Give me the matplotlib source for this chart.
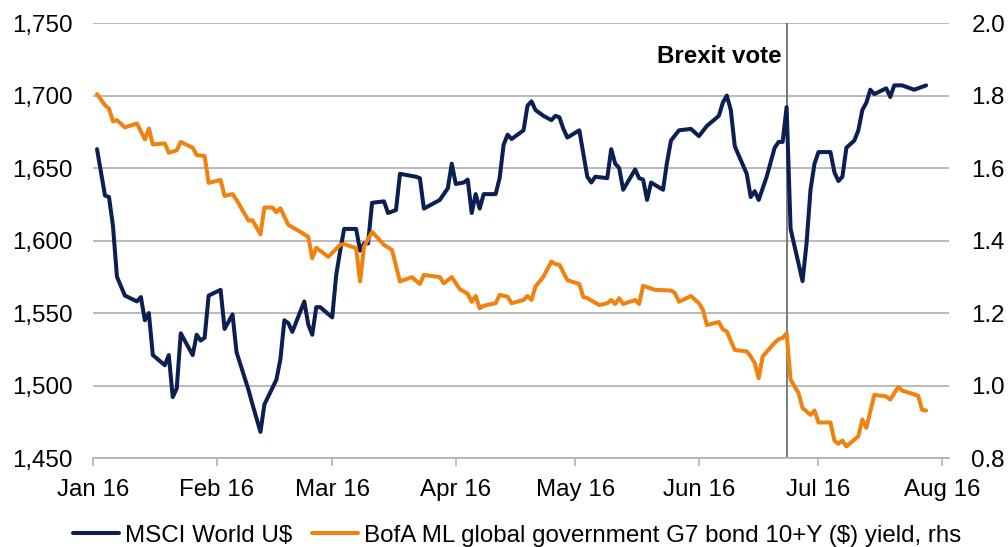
import pandas as pd
import matplotlib
matplotlib.use("Agg")
import matplotlib.pyplot as plt
import matplotlib.dates as mdates
from matplotlib.ticker import FuncFormatter, MultipleLocator

plt.rcParams["font.family"] = ["Liberation Sans", "DejaVu Sans"]

# MSCI World in US$ (left axis)
msci_dates = [
    "2016-01-02", "2016-01-04", "2016-01-05", "2016-01-06", "2016-01-07", "2016-01-09",
    "2016-01-12", "2016-01-13", "2016-01-14", "2016-01-15", "2016-01-16", "2016-01-19",
    "2016-01-20", "2016-01-21", "2016-01-22", "2016-01-23", "2016-01-26", "2016-01-27",
    "2016-01-28", "2016-01-29", "2016-01-30", "2016-02-02", "2016-02-03", "2016-02-05",
    "2016-02-06", "2016-02-09", "2016-02-10", "2016-02-12", "2016-02-13", "2016-02-16",
    "2016-02-17", "2016-02-18", "2016-02-19", "2016-02-20", "2016-02-23", "2016-02-24",
    "2016-02-25", "2016-02-26", "2016-02-27", "2016-03-01", "2016-03-02", "2016-03-03",
    "2016-03-04", "2016-03-07", "2016-03-08", "2016-03-09", "2016-03-10", "2016-03-11",
    "2016-03-14", "2016-03-15", "2016-03-17", "2016-03-18", "2016-03-22", "2016-03-23",
    "2016-03-24", "2016-03-28", "2016-03-29", "2016-03-30", "2016-03-31", "2016-04-01",
    "2016-04-03", "2016-04-04", "2016-04-05", "2016-04-06", "2016-04-07", "2016-04-08",
    "2016-04-11", "2016-04-12", "2016-04-13", "2016-04-14", "2016-04-15", "2016-04-18",
    "2016-04-19", "2016-04-20", "2016-04-21", "2016-04-23", "2016-04-25", "2016-04-26",
    "2016-04-27", "2016-04-28", "2016-04-29", "2016-05-02", "2016-05-04", "2016-05-05",
    "2016-05-06", "2016-05-09", "2016-05-10", "2016-05-11", "2016-05-12", "2016-05-13",
    "2016-05-16", "2016-05-17", "2016-05-18", "2016-05-19", "2016-05-20", "2016-05-23",
    "2016-05-24", "2016-05-25", "2016-05-27", "2016-05-30", "2016-06-01", "2016-06-03",
    "2016-06-06", "2016-06-07", "2016-06-08", "2016-06-09", "2016-06-10", "2016-06-13",
    "2016-06-14", "2016-06-15", "2016-06-16", "2016-06-18", "2016-06-20", "2016-06-21",
    "2016-06-22", "2016-06-23", "2016-06-24", "2016-06-27", "2016-06-28", "2016-06-29",
    "2016-06-30", "2016-07-01", "2016-07-04", "2016-07-05", "2016-07-06", "2016-07-07",
    "2016-07-08", "2016-07-10", "2016-07-11", "2016-07-12", "2016-07-13", "2016-07-14",
    "2016-07-15", "2016-07-18", "2016-07-19", "2016-07-20", "2016-07-22", "2016-07-25",
    "2016-07-27", "2016-07-28",
]
msci_values = [
    1663, 1631, 1630, 1610, 1575, 1562,
    1558, 1561, 1545, 1550, 1521, 1514,
    1521, 1492, 1498, 1536, 1521, 1535,
    1531, 1533, 1562, 1566, 1539, 1549,
    1523, 1497, 1487, 1468, 1487, 1504,
    1518, 1545, 1543, 1537, 1558, 1542,
    1535, 1554, 1554, 1547, 1576, 1593,
    1608, 1608, 1593, 1598, 1598, 1626,
    1627, 1619, 1621, 1646, 1644, 1643,
    1622, 1628, 1632, 1636, 1653, 1639,
    1640, 1642, 1619, 1632, 1622, 1632,
    1632, 1643, 1666, 1673, 1670, 1676,
    1693, 1696, 1690, 1686, 1683, 1686,
    1685, 1677, 1671, 1676, 1644, 1640,
    1644, 1643, 1663, 1653, 1650, 1635,
    1649, 1643, 1642, 1628, 1640, 1635,
    1654, 1669, 1676, 1677, 1672, 1679,
    1686, 1695, 1700, 1690, 1665, 1646,
    1630, 1634, 1628, 1644, 1664, 1668,
    1668, 1692, 1608, 1572, 1598, 1635,
    1653, 1661, 1661, 1647, 1641, 1644,
    1664, 1669, 1676, 1690, 1695, 1704,
    1701, 1705, 1699, 1707, 1707, 1704,
    1706, 1707,
]

# BofA ML G7 government bond 10+Y yield, % (right axis)
yield_dates = [
    "2016-01-02", "2016-01-04", "2016-01-05", "2016-01-06", "2016-01-07", "2016-01-09",
    "2016-01-12", "2016-01-14", "2016-01-15", "2016-01-16", "2016-01-19", "2016-01-20",
    "2016-01-22", "2016-01-23", "2016-01-26", "2016-01-27", "2016-01-29", "2016-01-30",
    "2016-02-02", "2016-02-03", "2016-02-05", "2016-02-06", "2016-02-09", "2016-02-10",
    "2016-02-12", "2016-02-13", "2016-02-15", "2016-02-16", "2016-02-17", "2016-02-19",
    "2016-02-22", "2016-02-24", "2016-02-25", "2016-02-26", "2016-02-29", "2016-03-03",
    "2016-03-04", "2016-03-07", "2016-03-08", "2016-03-09", "2016-03-11", "2016-03-14",
    "2016-03-16", "2016-03-18", "2016-03-21", "2016-03-23", "2016-03-24", "2016-03-28",
    "2016-03-29", "2016-03-31", "2016-04-02", "2016-04-04", "2016-04-05", "2016-04-06",
    "2016-04-07", "2016-04-08", "2016-04-11", "2016-04-12", "2016-04-14", "2016-04-15",
    "2016-04-18", "2016-04-19", "2016-04-20", "2016-04-21", "2016-04-23", "2016-04-25",
    "2016-04-26", "2016-04-27", "2016-04-29", "2016-04-30", "2016-05-02", "2016-05-03",
    "2016-05-04", "2016-05-07", "2016-05-09", "2016-05-10", "2016-05-11", "2016-05-12",
    "2016-05-13", "2016-05-16", "2016-05-17", "2016-05-18", "2016-05-21", "2016-05-25",
    "2016-05-26", "2016-05-27", "2016-05-30", "2016-06-01", "2016-06-02", "2016-06-03",
    "2016-06-06", "2016-06-07", "2016-06-08", "2016-06-10", "2016-06-13", "2016-06-14",
    "2016-06-15", "2016-06-16", "2016-06-17", "2016-06-20", "2016-06-21", "2016-06-22",
    "2016-06-23", "2016-06-24", "2016-06-26", "2016-06-27", "2016-06-29", "2016-06-30",
    "2016-07-01", "2016-07-04", "2016-07-05", "2016-07-06", "2016-07-07", "2016-07-08",
    "2016-07-11", "2016-07-12", "2016-07-13", "2016-07-15", "2016-07-18", "2016-07-19",
    "2016-07-21", "2016-07-22", "2016-07-26", "2016-07-27", "2016-07-28",
]
yield_values = [
    1.804, 1.773, 1.764, 1.729, 1.732, 1.712,
    1.723, 1.679, 1.709, 1.665, 1.668, 1.642,
    1.649, 1.672, 1.656, 1.636, 1.633, 1.559,
    1.567, 1.523, 1.528, 1.512, 1.455, 1.456,
    1.417, 1.491, 1.491, 1.478, 1.489, 1.443,
    1.424, 1.410, 1.351, 1.380, 1.355, 1.388,
    1.390, 1.379, 1.287, 1.383, 1.424, 1.388,
    1.374, 1.287, 1.299, 1.280, 1.305, 1.299,
    1.282, 1.299, 1.266, 1.253, 1.231, 1.247,
    1.213, 1.220, 1.227, 1.250, 1.245, 1.227,
    1.236, 1.247, 1.236, 1.273, 1.300, 1.342,
    1.335, 1.333, 1.291, 1.287, 1.280, 1.244,
    1.241, 1.222, 1.227, 1.236, 1.225, 1.241,
    1.225, 1.236, 1.225, 1.275, 1.264, 1.262,
    1.255, 1.231, 1.247, 1.227, 1.209, 1.167,
    1.175, 1.155, 1.149, 1.098, 1.094, 1.080,
    1.062, 1.020, 1.080, 1.118, 1.128, 1.131,
    1.144, 1.016, 0.979, 0.938, 0.919, 0.931,
    0.898, 0.898, 0.848, 0.839, 0.848, 0.832,
    0.860, 0.906, 0.883, 0.974, 0.970, 0.961,
    0.996, 0.986, 0.972, 0.933, 0.931,
]

brexit_date = "2016-06-23"
msci_label = "MSCI World U$"
yield_label = "BofA ML global government G7 bond 10+Y ($) yield, rhs"

navy = "#0B1F52"
orange = "#F0820F"
grid_grey = "#B4B4B4"
font_size = 17.4

fig = plt.figure(figsize=(10.08, 5.47), dpi=100)
ax = fig.add_axes([0.0923, 0.1627, 0.8492, 0.7952])
ax2 = ax.twinx()

msci_x = pd.to_datetime(msci_dates)
yield_x = pd.to_datetime(yield_dates)

l1, = ax.plot(msci_x, msci_values, color=navy, lw=2.9, solid_joinstyle="round",
              solid_capstyle="round", label=msci_label, zorder=3)
l2, = ax2.plot(yield_x, yield_values, color=orange, lw=2.9, solid_joinstyle="round",
               solid_capstyle="round", label=yield_label, zorder=3)

ax.set_ylim(1450, 1750)
ax2.set_ylim(0.8, 2.0)
ax.set_xlim(pd.Timestamp("2016-01-01"), pd.Timestamp("2016-08-02 18:00"))

ax.yaxis.set_major_locator(MultipleLocator(50))
ax.yaxis.set_major_formatter(FuncFormatter(lambda v, p: f"{v:,.0f}"))
ax2.yaxis.set_major_locator(MultipleLocator(0.2))
ax2.yaxis.set_major_formatter(FuncFormatter(lambda v, p: f"{v:.1f}"))

ax.xaxis.set_major_locator(mdates.MonthLocator())
ax.xaxis.set_major_formatter(mdates.DateFormatter("%b %y"))

ax.grid(axis="y", color=grid_grey, lw=1.3, zorder=0)
ax.set_axisbelow(True)

for a in (ax, ax2):
    for side in ("left", "right", "top", "bottom"):
        a.spines[side].set_visible(False)
ax.spines["bottom"].set_visible(True)
ax.spines["bottom"].set_color(grid_grey)
ax.spines["bottom"].set_linewidth(1.3)

ax.tick_params(axis="x", direction="out", length=6, width=1.2, color=grid_grey,
               labelsize=font_size, pad=9)
ax.tick_params(axis="y", length=0, labelsize=font_size, pad=15)
ax2.tick_params(axis="y", length=0, labelsize=font_size, pad=16)

# Brexit referendum marker
bx = mdates.date2num(pd.Timestamp(brexit_date))
ax.axvline(bx, color="#707070", lw=1.3, zorder=2)
ax.annotate("Brexit vote", xy=(bx, 0.924), xycoords=ax.get_xaxis_transform(),
            xytext=(-3.5, 0), textcoords="offset points", ha="right", va="center",
            fontsize=font_size, fontweight="bold")

fig.legend(handles=[l1, l2], loc="center", bbox_to_anchor=(0.513, 0.021), ncol=2,
           frameon=False, fontsize=font_size, handlelength=1.9, handletextpad=0.25,
           columnspacing=0.85, borderpad=0)

fig.savefig("out.png", dpi=100)
